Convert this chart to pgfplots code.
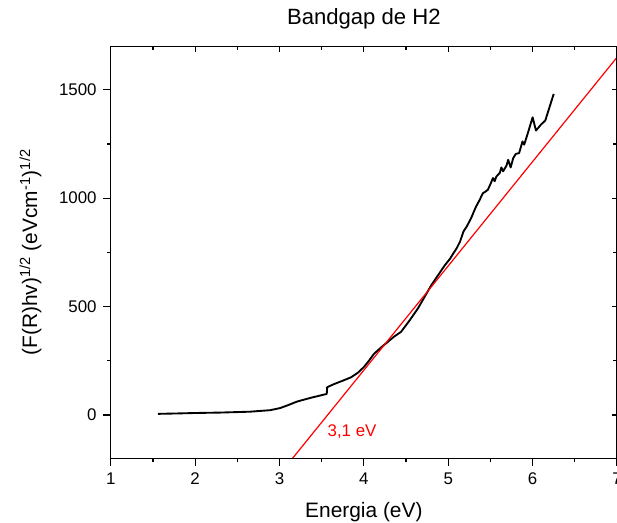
\documentclass[border=0pt]{standalone}
\usepackage{pgfplots}
\pgfplotsset{compat=1.18}
\usepackage{fontspec}
\setmainfont{Liberation Sans}
\begin{document}
\begin{tikzpicture}[trim axis right]
\pgfplotsset{
  common/.style={
    scale only axis, width=378pt, height=307.5pt,
    xmin=1, xmax=7, ymin=-200, ymax=1700,
    xtick={1,2,3,4,5,6,7}, ytick={0,500,1000,1500},
    minor x tick num=1, minor y tick num=1,
    axis line style={line width=0.9pt},
    major tick style={line width=0.9pt, black},
    minor tick style={line width=0.9pt, black},
  }
}
\begin{axis}[common,
    tick align=outside, tick pos=left,
    major tick length=5.5pt, minor tick length=3pt,
    /pgf/number format/assume math mode=true,
    /pgf/number format/1000 sep={},
    tick label style={font=\fontsize{12.6}{15}\selectfont},
    xticklabel style={yshift=-1.5pt},
    yticklabel style={xshift=-1.5pt},
    xlabel={Energia (eV)},
    ylabel={(F(R)hv)\textsuperscript{1/2} (eVcm\textsuperscript{-1})\textsuperscript{1/2}},
    title={Bandgap de H2},
    title style={font=\fontsize{16.5}{19}\selectfont, at={(axis description cs:0.5,1)}, anchor=center, yshift=14.5pt, inner ysep=6.5pt},
    xlabel style={font=\fontsize{15.6}{18}\selectfont, at={(axis description cs:0.5,0)}, anchor=center, yshift=-40pt, inner ysep=1pt},
    ylabel style={font=\fontsize{15.6}{18}\selectfont, at={(axis description cs:0,0.5)}, anchor=center, yshift=60pt, inner ysep=14.5pt},
]
\addplot[black, line width=1.4pt, line join=round] coordinates {
(1.56,5) (1.8,7) (2.0,9) (2.3,11) (2.65,15) (2.89,22) (3.01,32) (3.1,45)
(3.21,62) (3.37,79) (3.56,97) (3.565,128) (3.65,143) (3.75,158) (3.85,174)
(3.93,195) (4.0,221) (4.06,250) (4.12,282) (4.2,310) (4.28,336) (4.36,362)
(4.44,383) (4.54,435) (4.64,491) (4.72,545) (4.80,599) (4.88,645) (4.96,691)
(5.02,720) (5.06,745) (5.10,769) (5.14,800) (5.18,846) (5.22,870) (5.27,907)
(5.33,962) (5.37,990) (5.41,1023) (5.44,1030) (5.47,1039) (5.50,1065)
(5.53,1093) (5.55,1078) (5.57,1100) (5.61,1116) (5.63,1142) (5.65,1124)
(5.69,1150) (5.71,1177) (5.74,1142) (5.77,1185) (5.80,1204) (5.84,1208)
(5.88,1262) (5.90,1247) (5.94,1296) (6.00,1373) (6.04,1312) (6.10,1340)
(6.15,1358) (6.21,1432) (6.25,1481)
};
\addplot[red, line width=0.9pt] coordinates {(3.155,-200) (7.1,1698)};
\node[red, font=\fontsize{12.6}{15}\selectfont] at (axis cs:3.86,-79) {3,1 eV};
\end{axis}
\begin{axis}[common,
    tick align=inside, xtick pos=right, ytick pos=right,
    major tick length=4pt, minor tick length=3pt,
    xticklabels={}, yticklabels={},
]
\end{axis}
\end{tikzpicture}
\end{document}
